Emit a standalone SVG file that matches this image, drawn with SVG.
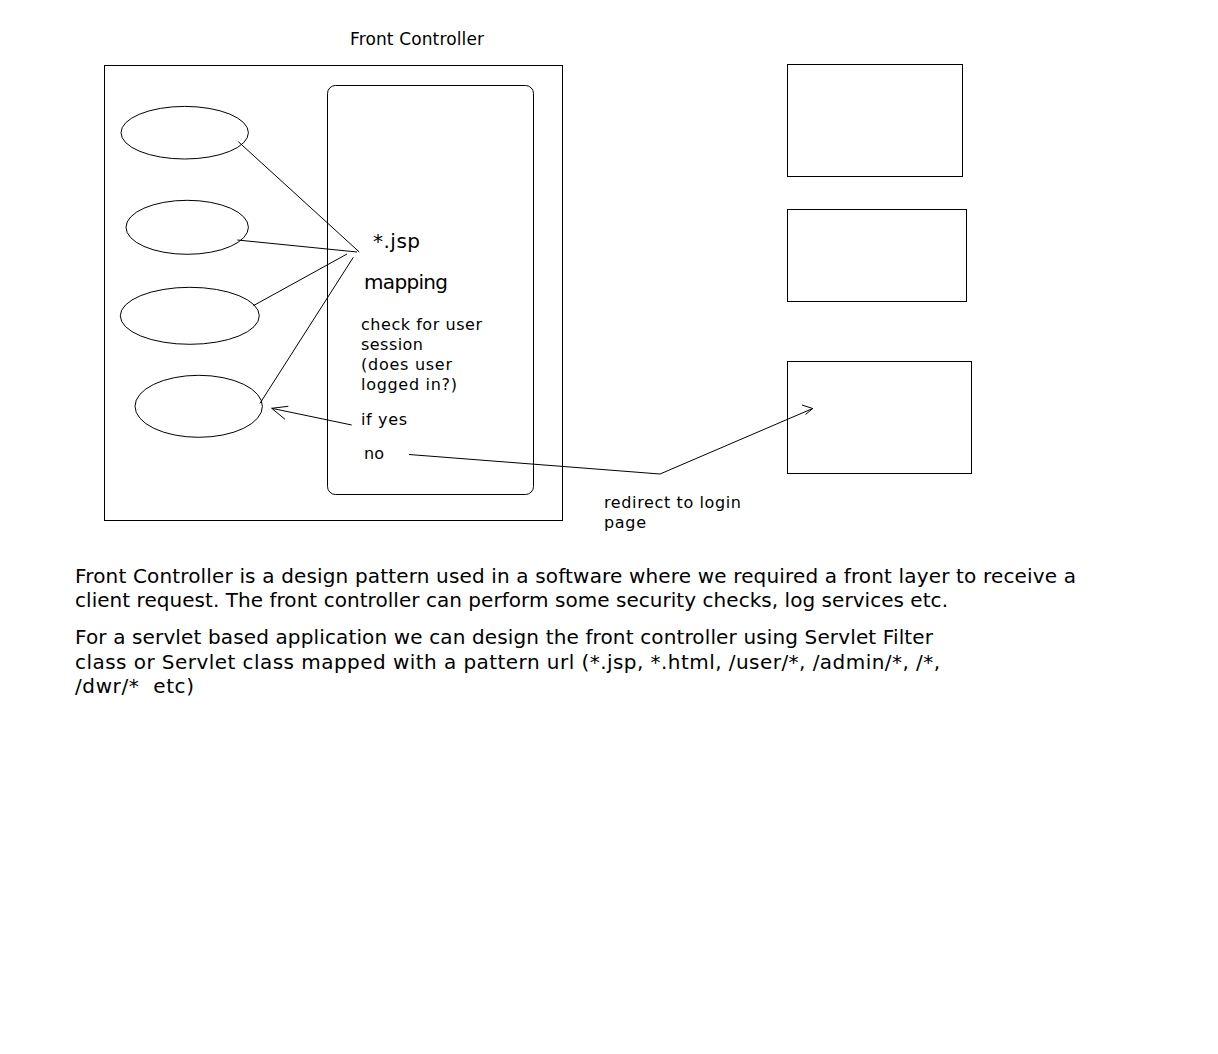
<svg xmlns="http://www.w3.org/2000/svg" width="1218" height="1054" viewBox="0 0 1218 1054">
<defs>
<style>
.box{fill:none;stroke:#000;stroke-width:1}
.ln{fill:none;stroke:#000;stroke-width:1}
text{font-family:"DejaVu Sans","Liberation Sans",sans-serif;fill:#000;white-space:pre}
.t16{font-size:16px}
.t17{font-size:17px}
.t20{font-size:20px}
</style>
</defs>
<rect width="1218" height="1054" fill="#fff"/>
<g id="title"><text class="t17" x="350" y="45" textLength="134" lengthAdjust="spacing">Front Controller</text></g>
<g id="front-controller"><rect class="box" x="104.5" y="65.5" width="458" height="455"/></g>
<g id="mapping-box">
<rect class="box" x="327.5" y="85.5" width="206" height="409" rx="8"/>
<text class="t20" x="373" y="248" textLength="47" lengthAdjust="spacing">*.jsp</text>
<text class="t20" x="364" y="289" textLength="84" lengthAdjust="spacing">mapping</text>
<text class="t16" x="361" y="330" textLength="121" lengthAdjust="spacing">check for user</text>
<text class="t16" x="361" y="350" textLength="62" lengthAdjust="spacing">session</text>
<text class="t16" x="361" y="370" textLength="91" lengthAdjust="spacing">(does user</text>
<text class="t16" x="361" y="390" textLength="96" lengthAdjust="spacing">logged in?)</text>
<text class="t16" x="361" y="425" textLength="46" lengthAdjust="spacing">if yes</text>
<text class="t16" x="364" y="459" textLength="20" lengthAdjust="spacing">no</text>
</g>
<g id="client1"><ellipse class="box" cx="184.7" cy="132.7" rx="63.7" ry="26.3"/></g>
<g id="client2"><ellipse class="box" cx="187.2" cy="227.3" rx="61.2" ry="27"/></g>
<g id="client3"><ellipse class="box" cx="189.8" cy="315.8" rx="69.5" ry="28.5"/></g>
<g id="client4"><ellipse class="box" cx="198.7" cy="406.3" rx="63.7" ry="31"/></g>
<g id="resource1"><rect class="box" x="787.5" y="64.5" width="175" height="112"/></g>
<g id="resource2"><rect class="box" x="787.5" y="209.5" width="179" height="92"/></g>
<g id="login-page"><rect class="box" x="787.5" y="361.5" width="184" height="112"/></g>
<g id="connectors">
<line class="ln" x1="238.3" y1="141.7" x2="359.3" y2="252"/>
<line class="ln" x1="237.3" y1="240" x2="357" y2="252"/>
<line class="ln" x1="253.3" y1="305.7" x2="347" y2="254"/>
<line class="ln" x1="260" y1="403.3" x2="353.3" y2="257.3"/>
<polyline class="ln" points="351.7,425 271.7,408.3"/>
<polyline class="ln" points="288.3,406.3 271.7,408.3 285,419.3"/>
<polyline class="ln" points="409,454.5 660,474 812.7,408.5"/>
<polyline class="ln" points="802,405 812.7,408.5 805.5,414.5"/>
<text class="t16" x="604" y="508" textLength="137" lengthAdjust="spacing">redirect to login</text>
<text class="t16" x="604" y="528" textLength="42" lengthAdjust="spacing">page</text>
</g>
<g id="description">
<text class="t20" x="75" y="583" textLength="1001" lengthAdjust="spacing">Front Controller is a design pattern used in a software where we required a front layer to receive a</text>
<text class="t20" x="75" y="607" textLength="873" lengthAdjust="spacing">client request. The front controller can perform some security checks, log services etc.</text>
<text class="t20" x="75" y="644" textLength="858" lengthAdjust="spacing">For a servlet based application we can design the front controller using Servlet Filter</text>
<text class="t20" x="75" y="668.5" textLength="865" lengthAdjust="spacing">class or Servlet class mapped with a pattern url (*.jsp, *.html, /user/*, /admin/*, /*,</text>
<text class="t20" x="75" y="693" textLength="119" lengthAdjust="spacing">/dwr/*  etc)</text>
</g>
</svg>
